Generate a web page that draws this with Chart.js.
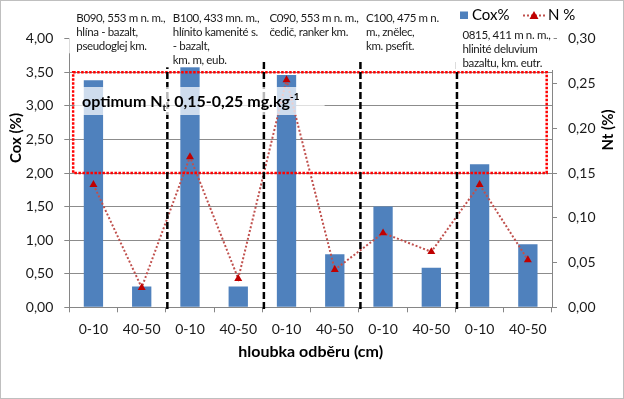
<!DOCTYPE html>
<html>
<head>
<meta charset="utf-8">
<script src="https://cdn.jsdelivr.net/npm/chart.js@4.4.1/dist/chart.umd.min.js"></script>
<style>
  html, body { margin: 0; padding: 0; background: #fff; }
  #wrap { width: 624px; height: 399px; }
</style>
</head>
<body>
<div id="wrap"><canvas id="graf" width="624" height="399"></canvas></div>
<script>
// hloubky odběru (2 na každou lokalitu)
const categories = ['0-10', '40-50', '0-10', '40-50', '0-10', '40-50', '0-10', '40-50', '0-10', '40-50'];
// Cox (%) - levá osa
const coxValues = [3.38, 0.31, 3.58, 0.31, 3.46, 0.79, 1.50, 0.59, 2.13, 0.94];
// N (%) - pravá osa
const nValues = [0.137, 0.022, 0.168, 0.032, 0.254, 0.042, 0.083, 0.062, 0.137, 0.053];
// popisky lokalit
const siteLabels = [
  ['B090, 553 m n. m.,', 'hlína - bazalt,', 'pseudoglej km.'],
  ['B100, 433 mn. m.,', 'hlínito kamenité s.', '- bazalt,', 'km. m, eub.'],
  ['C090, 553 m n. m.,', 'čedič, ranker km.'],
  ['C100, 475 m n.', 'm., znělec,', 'km. psefit.'],
  ['0815, 411 m n. m.,', 'hlinité deluvium', 'bazaltu, km. eutr.']
];
const coxTicks = [0, 0.5, 1, 1.5, 2, 2.5, 3, 3.5, 4];
const nTicks = [0, 0.05, 0.1, 0.15, 0.2, 0.25, 0.3];
// rámeček optima (na ose Cox)
const optimumRange = [2.0, 3.5];

const FONT = 'Lato, "Open Sans", sans-serif';
const fmt = v => v.toFixed(2).replace('.', ',');

const overlay = {
  id: 'overlay',
  beforeDraw(chart) {
    const c = chart.ctx;
    c.save();
    c.fillStyle = '#fff';
    c.fillRect(0, 0, chart.width, chart.height);
    c.restore();
  },
  afterDatasetsDraw(chart) {
    const c = chart.ctx, x = chart.scales.x, y = chart.scales.y, a = chart.chartArea;
    c.save();
    // červený rámeček optima
    const x1 = x.getPixelForValue(-0.42), x2 = x.getPixelForValue(9.39);
    const yt = y.getPixelForValue(optimumRange[1]), yb = y.getPixelForValue(optimumRange[0]);
    c.strokeStyle = '#FF0000';
    c.lineWidth = 2.5;
    c.setLineDash([2.5, 1.5]);
    c.strokeRect(x1, yt, x2 - x1, yb - yt);
    // svislé přerušované čáry mezi lokalitami
    c.strokeStyle = '#000';
    c.lineWidth = 2.5;
    c.setLineDash([7, 3]);
    [1.5, 3.5, 5.5, 7.5].forEach(i => {
      const px = x.getPixelForValue(i) + 1.5;
      c.beginPath();
      c.moveTo(px, 62);
      c.lineTo(px, a.bottom + 3);
      c.stroke();
    });
    c.restore();
  },
  afterDraw(chart) {
    const c = chart.ctx, x = chart.scales.x, a = chart.chartArea;
    c.save();
    c.setLineDash([]);

    // popisek optima s poloprůhledným pozadím
    c.fillStyle = 'rgba(255,255,255,0.72)';
    c.fillRect(x.getPixelForValue(-0.39), 87, 250, 28);
    c.fillStyle = '#000';
    c.textBaseline = 'alphabetic';
    c.textAlign = 'left';
    let tx = 82;
    const by = 107;
    c.font = 'bold 16px ' + FONT;
    c.fillText('optimum N', tx, by); tx += c.measureText('optimum N').width;
    c.font = 'bold 10px ' + FONT;
    c.fillText('t', tx, by + 4); tx += c.measureText('t').width;
    c.font = 'bold 16px ' + FONT;
    c.fillText(': 0,15-0,25 mg.kg', tx, by); tx += c.measureText(': 0,15-0,25 mg.kg').width;
    c.font = 'bold 10px ' + FONT;
    c.fillText('-1', tx, by - 7);

    // popisky lokalit (bílé textové rámečky, pak text)
    c.font = '11.5px ' + FONT;
    c.letterSpacing = '-0.35px';
    c.textBaseline = 'middle';
    const blocks = siteLabels.map((lines, g) => ({
      lines,
      left: x.getPixelForValue(g * 2 - 0.5) + 7,
      top: g === 4 ? 35 : 18.3,
      w: Math.max(...lines.map(l => c.measureText(l).width))
    }));
    c.fillStyle = '#fff';
    blocks.forEach(b => c.fillRect(b.left - 7, b.top - 10, b.w + 10, (b.lines.length - 1) * 14 + 17));
    c.fillStyle = '#1a1a1a';
    blocks.forEach(b => b.lines.forEach((l, i) => c.fillText(l, b.left, b.top + i * 14)));
    c.letterSpacing = '0px';

    // legenda
    c.fillStyle = '#4F81BD';
    c.fillRect(460, 11.5, 8, 7.5);
    c.fillStyle = '#000';
    c.font = '15px ' + FONT;
    c.fillText('Cox%', 472, 15.5);
    c.strokeStyle = '#C0504D';
    c.lineWidth = 2;
    c.setLineDash([2, 2]);
    c.beginPath(); c.moveTo(523, 15.5); c.lineTo(545, 15.5); c.stroke();
    c.setLineDash([]);
    c.fillStyle = '#C00000';
    c.beginPath(); c.moveTo(534, 11); c.lineTo(538.5, 19); c.lineTo(529.5, 19); c.closePath(); c.fill();
    c.fillStyle = '#000';
    c.fillText('N %', 548, 15.5);

    // názvy os
    c.font = 'bold 16px ' + FONT;
    c.textAlign = 'center';
    c.fillText('hloubka odběru (cm)', (a.left + a.right) / 2, 352);
    c.font = 'bold 15px ' + FONT;
    c.save();
    c.translate(16, 138); c.rotate(-Math.PI / 2);
    c.fillText('Cox (%)', 0, 0);
    c.restore();
    c.save();
    c.translate(608, 130); c.rotate(-Math.PI / 2);
    c.fillText('Nt (%)', 0, 0);
    c.restore();

    // okraj grafu
    c.strokeStyle = '#bfbfbf';
    c.lineWidth = 1;
    c.strokeRect(0.5, 0.5, chart.width - 1, chart.height - 1);
    c.restore();
  }
};

new Chart(document.getElementById('graf').getContext('2d'), {
  type: 'bar',
  data: {
    labels: categories,
    datasets: [
      {
        label: 'Cox%',
        data: coxValues,
        backgroundColor: '#4F81BD',
        borderWidth: 0,
        categoryPercentage: 1,
        barPercentage: 0.4,
        yAxisID: 'y',
        order: 1
      },
      {
        type: 'line',
        label: 'N %',
        data: nValues,
        borderColor: '#C0504D',
        borderWidth: 2,
        borderDash: [2, 2],
        pointStyle: 'triangle',
        pointRadius: 4.6,
        pointBackgroundColor: '#C00000',
        pointBorderColor: '#C00000',
        pointBorderWidth: 0,
        tension: 0,
        yAxisID: 'y1',
        order: 0
      }
    ]
  },
  options: {
    responsive: false,
    animation: false,
    layout: { padding: { top: 38.7, left: 0, right: 0, bottom: 0 } },
    plugins: {
      legend: { display: false },
      tooltip: { enabled: false },
      title: { display: false }
    },
    scales: {
      x: {
        offset: true,
        grid: { offset: true, drawOnChartArea: false, drawTicks: true, tickLength: 5, color: '#868686' },
        border: { color: '#868686' },
        ticks: { color: '#1a1a1a', font: { family: FONT, size: 14 }, padding: 9, maxRotation: 0, autoSkip: false },
        afterFit: s => { s.height = 91.7; }
      },
      y: {
        position: 'left',
        min: 0, max: 4,
        afterBuildTicks: s => { s.ticks = coxTicks.map(v => ({ value: v })); },
        grid: {
          color: ctx => ctx.tick && ctx.tick.value === 4 ? 'rgba(0,0,0,0)' : '#8c8c8c',
          tickColor: '#868686', tickLength: 5
        },
        border: { color: '#868686' },
        ticks: { color: '#1a1a1a', font: { family: FONT, size: 14 }, padding: 11, callback: v => fmt(v) },
        afterFit: s => { s.width = 69.3; }
      },
      y1: {
        position: 'right',
        min: 0, max: 0.3,
        afterBuildTicks: s => { s.ticks = nTicks.map(v => ({ value: v })); },
        grid: { drawOnChartArea: false, tickColor: '#868686', tickLength: 5 },
        border: { color: '#868686' },
        ticks: { color: '#1a1a1a', font: { family: FONT, size: 14 }, padding: 11, callback: v => fmt(v) },
        afterFit: s => { s.width = 72; }
      }
    }
  },
  plugins: [overlay]
});
</script>
</body>
</html>
